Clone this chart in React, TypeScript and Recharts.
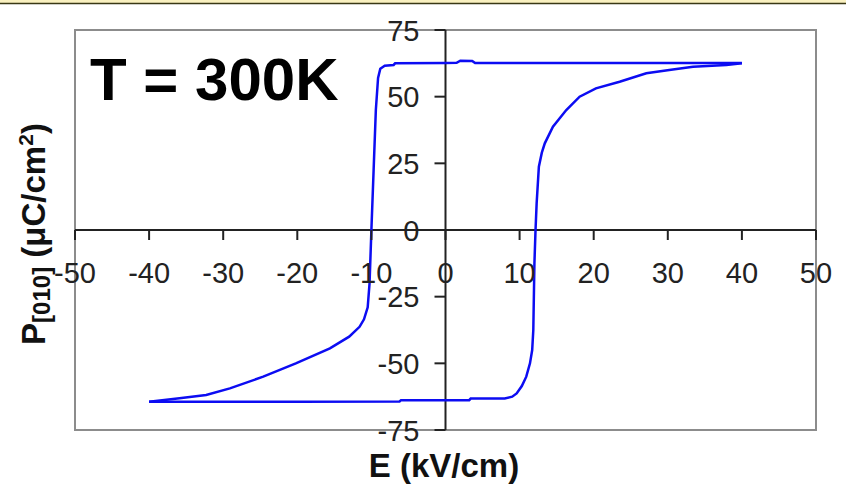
import React from 'react';
import { LineChart, Line, XAxis, YAxis, ReferenceLine, ReferenceArea } from 'recharts';

// Descending branch: field swept from +40 down to -40 kV/cm
const eDown = [40, 30, 20, 10, 4, 3.6, 2, 1.5, 0, -6.8, -7, -8.2, -8.8, -9.1, -9.4, -9.7, -10.0, -10.25, -10.5, -11, -11.6, -13, -15.6, -20.2, -24.6, -29.1, -32.3, -35.9, -40];
const pDown = [62.6, 62.6, 62.6, 62.6, 62.6, 63.4, 63.5, 62.7, 62.6, 62.5, 61.9, 61.6, 60.5, 57, 45, 22.5, 0, -20, -29, -33.5, -36.3, -40, -44.4, -50, -55, -59.4, -61.9, -63.1, -64.4];

// Ascending branch: field swept from -40 back up to +40 kV/cm
const eUp = [-40, -30, -20, -6.2, -6, 0, 3.2, 3.4, 8, 9, 9.6, 10.3, 10.9, 11.4, 11.7, 11.85, 12.0, 12.15, 12.3, 12.6, 13.0, 13.4, 14.5, 16.3, 18.1, 20.3, 23.5, 27.1, 30.2, 33.4, 37.9, 40];
const pUp = [-64.4, -64.4, -64.4, -64.3, -63.8, -63.8, -63.8, -63.2, -63.2, -62.5, -61.3, -58.5, -55, -50, -45, -37.5, -12.5, 0, 10, 23.75, 29, 32.5, 38.75, 45, 50, 53.1, 55.6, 58.75, 60, 61.25, 61.9, 62.5];

const xTicks = [-50, -40, -30, -20, -10, 0, 10, 20, 30, 40, 50];
const yTicks = [-75, -50, -25, 0, 25, 50, 75];

const downData = eDown.map((e, i) => ({ e, p: pDown[i] }));
const upData = eUp.map((e, i) => ({ e, p: pUp[i] }));

const W = 846;
const H = 487;
const MARGIN = { top: 30, right: 30, bottom: 56, left: 74 };
const PLOT_LEFT = MARGIN.left + 1;
const PLOT_W = W - PLOT_LEFT - MARGIN.right;
const PLOT_H = H - MARGIN.top - MARGIN.bottom - 1;
const ZERO_X = PLOT_LEFT + PLOT_W / 2;
const ZERO_Y = MARGIN.top + PLOT_H / 2;

const FONT = '"Liberation Sans", Arial, sans-serif';
const LOOP = '#0c0cf2';

// ticks sit on the zero lines, not on the plot edges
const renderXTick = (props: any) => {
  const { x, payload } = props;
  return (
    <g key={`xt-${payload.value}`}>
      <line x1={x} y1={ZERO_Y} x2={x} y2={ZERO_Y + 10} stroke="#222" strokeWidth={2} />
      <text x={x} y={ZERO_Y + 53} textAnchor="middle" fontSize={29} fill="#222" fontFamily={FONT}>
        {payload.value}
      </text>
    </g>
  );
};

const renderYTick = (props: any) => {
  const { y, payload } = props;
  return (
    <g key={`yt-${payload.value}`}>
      <line x1={ZERO_X - 11} y1={y} x2={ZERO_X} y2={y} stroke="#222" strokeWidth={2} />
      <text x={ZERO_X - 26} y={y + 10.5} textAnchor="end" fontSize={29} fill="#222" fontFamily={FONT}>
        {payload.value}
      </text>
    </g>
  );
};

const App = () => {
  return (
    <div style={{ position: 'absolute', left: 0, top: 0, width: W, height: H, background: '#fff' }}>
      <LineChart width={W} height={H} margin={MARGIN}>
        <XAxis
          type="number"
          dataKey="e"
          domain={[-50, 50]}
          ticks={xTicks}
          interval={0}
          height={1}
          axisLine={false}
          tickLine={false}
          tick={renderXTick}
          allowDataOverflow
        />
        <YAxis
          type="number"
          dataKey="p"
          domain={[-75, 75]}
          ticks={yTicks}
          interval={0}
          width={1}
          axisLine={false}
          tickLine={false}
          tick={renderYTick}
          allowDataOverflow
        />
        <ReferenceArea x1={-50} x2={50} y1={-75} y2={75} fill="none" stroke="#8c8c8c" strokeWidth={2} />
        <ReferenceLine x={0} stroke="#222" strokeWidth={2} />
        <ReferenceLine y={0} stroke="#222" strokeWidth={2} />
        <Line data={downData} dataKey="p" type="linear" stroke={LOOP} strokeWidth={2.5} dot={false} isAnimationActive={false} />
        <Line data={upData} dataKey="p" type="linear" stroke={LOOP} strokeWidth={2.5} dot={false} isAnimationActive={false} />
      </LineChart>
      <svg width={W} height={H} style={{ position: 'absolute', left: 0, top: 0, pointerEvents: 'none' }}>
        <rect x={0} y={0} width={W} height={3} fill="#faf1c0" />
        <line x1={0} y1={3.5} x2={W} y2={3.5} stroke="#3a3815" strokeWidth={1.5} />
        <text x={90} y={100} fontSize={60} fontWeight="bold" fill="#000" fontFamily={FONT}>
          T = 300K
        </text>
        <text x={444} y={477} textAnchor="middle" fontSize={33} fontWeight="bold" fill="#111" fontFamily={FONT}>
          E (kV/cm)
        </text>
        <text
          transform="translate(45, 234) rotate(-90)"
          textAnchor="middle"
          fontSize={33}
          fontWeight="bold"
          fill="#111"
          fontFamily={FONT}
        >
          P<tspan fontSize={24} dy={5}>[010]</tspan>
          <tspan dy={-5}> (μC/cm</tspan>
          <tspan fontSize={21} dy={-12}>2</tspan>
          <tspan dy={12}>)</tspan>
        </text>
      </svg>
    </div>
  );
};

export default App;
